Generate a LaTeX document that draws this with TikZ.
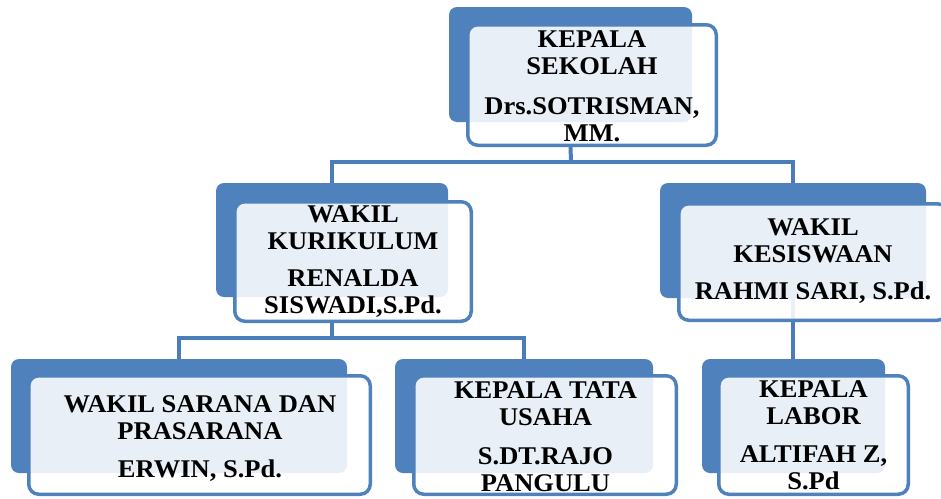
\documentclass[tikz,border=0pt]{standalone}
\usepackage{fontspec}
\setmainfont{Liberation Serif}[FakeStretch=1.04]
\usetikzlibrary{backgrounds}
\definecolor{bluebox}{HTML}{4F81BD}
\definecolor{bluelink}{HTML}{4A7DBA}
\begin{document}
\begin{tikzpicture}[x=1pt,y=-1pt,
  backbox/.style={fill=bluebox, rounded corners=8pt, inner sep=0pt, draw=none},
  frontbox/.style={draw=bluebox, line width=3.5pt, fill=white, fill opacity=0.88, rounded corners=10pt, inner sep=0pt},
  boxtext/.style={anchor=north, inner sep=0pt, align=center, font=\bfseries\fontsize{25.5}{27}\selectfont},
  conn/.style={draw=bluelink, line width=4pt}]
\useasboundingbox (0,0) rectangle (941,498);

% back boxes
\node[backbox, minimum width=243pt, minimum height=115pt] (topB) at (570.5,64.5) {};
\node[backbox, minimum width=232pt, minimum height=114pt] (kurB) at (332,240) {};
\node[backbox, minimum width=266pt, minimum height=115pt] (kesB) at (793,240.5) {};
\node[backbox, minimum width=336pt, minimum height=114pt] (sarB) at (179,416) {};
\node[backbox, minimum width=258pt, minimum height=114pt] (tatB) at (524,416) {};
\node[backbox, minimum width=183pt, minimum height=114pt] (labB) at (793.5,416) {};

% front boxes
\node[frontbox, minimum width=248.5pt, minimum height=120.5pt] (topF) at (592,85) {};
\node[frontbox, minimum width=236.5pt, minimum height=119.5pt] (kurF) at (353,261.5) {};
\node[frontbox, minimum width=268.5pt, minimum height=116.5pt] (kesF) at (813,262) {};
\node[frontbox, minimum width=341.5pt, minimum height=118.5pt] (sarF) at (199.5,435) {};
\node[frontbox, minimum width=262.5pt, minimum height=118.5pt] (tatF) at (545,435) {};
\node[frontbox, minimum width=189.5pt, minimum height=118.5pt] (labF) at (813.5,435) {};

% texts
\node[boxtext] (topT) at (592,30) {KEPALA\\SEKOLAH\\[13pt]Drs.SOTRISMAN,\\MM.};
\node[boxtext] (kurT) at (353,205) {WAKIL\\KURIKULUM\\[10pt]RENALDA\\SISWADI,S.Pd.};
\node[boxtext] (kesT) at (813,218.3) {WAKIL\\KESISWAAN\\[10pt]RAHMI SARI, S.Pd.};
\node[boxtext] (sarT) at (200,395) {WAKIL SARANA DAN\\PRASARANA\\[11pt]ERWIN, S.Pd.};
\node[boxtext] (tatT) at (545.5,381.7) {KEPALA TATA\\USAHA\\[11.5pt]S.DT.RAJO\\PANGULU};
\node[boxtext] (labT) at (813.5,380) {KEPALA\\LABOR\\[11.5pt]ALTIFAH Z,\\S.Pd};

% connectors
\begin{scope}[on background layer]
\coordinate (j1) at (571,162);
\coordinate (j2) at (332,338);
\draw[conn] (topB.center |- topF.south) -- (j1);
\draw[conn] (kurB.north) |- (j1) -| (kesB.north);
\draw[conn] (kurB.center |- kurF.south) -- (j2);
\draw[conn] (sarB.north) |- (j2) -| (tatB.north);
\draw[conn] (kesB.south) -- (kesB.south |- labB.north);
\end{scope}
\end{tikzpicture}
\end{document}
